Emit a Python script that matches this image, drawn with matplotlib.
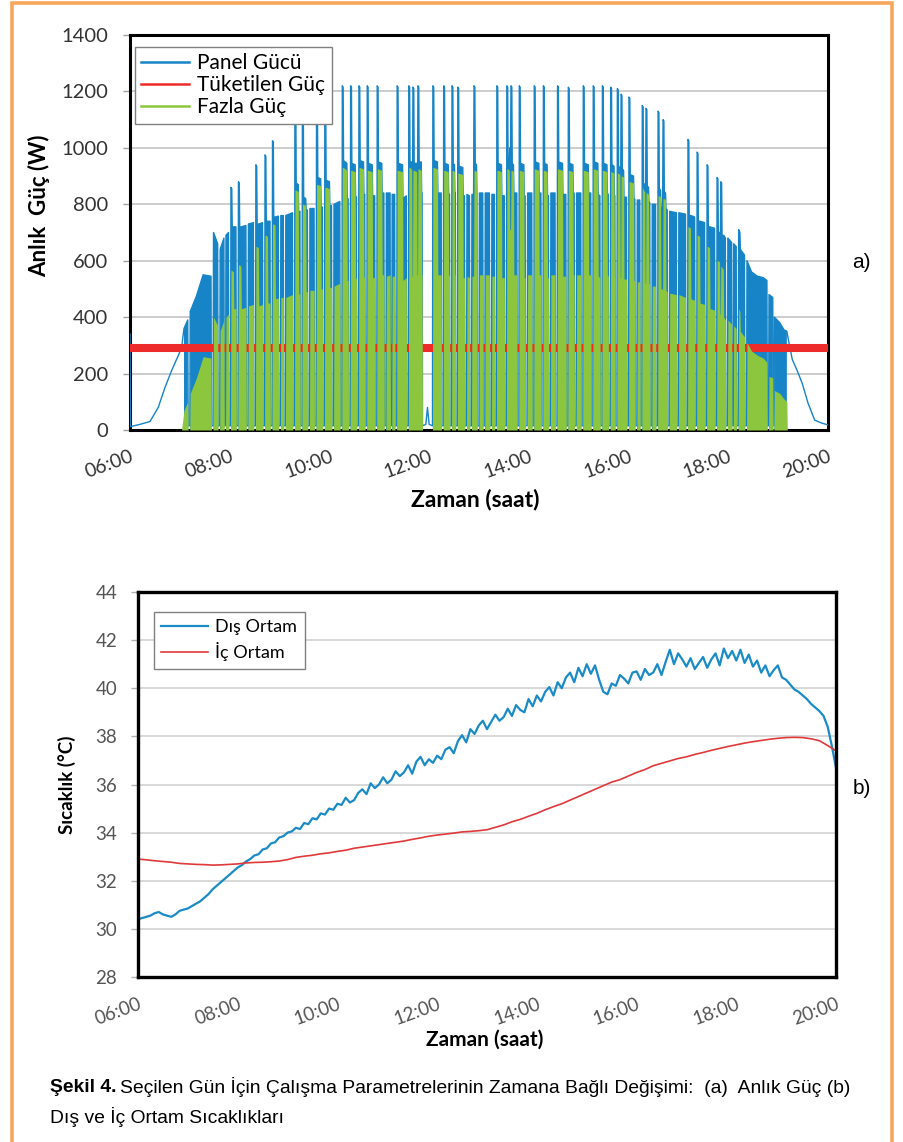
import numpy as np
import matplotlib
matplotlib.use("Agg")
import matplotlib.pyplot as plt
from matplotlib.lines import Line2D
from matplotlib.patches import Rectangle

plt.rcParams['font.family'] = ['Lato', 'DejaVu Sans']

# (a) Anlik guc - zaman: 06:00'dan itibaren dakika
guc_dakika = [
    0, 0.6, 12, 24, 34, 42, 50, 56, 62,
    65, 69.5, 70, 72,
    72.5, 80, 88, 97.5, 98, 100,
    100.5, 105.5, 106, 108,
    108.5, 113, 113.5, 115, 115.5, 118.5, 119, 121,
    121.5, 122.5, 123, 124.5, 125, 127.5, 128, 130,
    130.5, 131.5, 132, 133.5, 134, 139.5, 140, 142,
    142.5, 148.5, 149, 151,
    151.5, 152.5, 153, 154.5, 155, 159.5, 160, 162,
    162.5, 163.5, 164, 165.5, 166, 168.5, 169, 171,
    171.5, 172.5, 173, 174.5, 175, 178.5, 179, 181, 181.5, 184.5, 185, 187,
    187.5, 195.5, 196, 198,
    198.5, 199.5, 200, 202.5, 203, 204.5, 205, 207,
    207.5, 208.5, 209, 211.5, 212, 213.5, 214, 216,
    216.5, 221.5, 222, 224,
    224.5, 225.5, 226, 229.5, 230, 231.5, 232, 234,
    234.5, 235.5, 236, 240, 240.5, 242.5, 243, 245,
    245.5, 252.5, 253, 255,
    255.5, 256.5, 257, 261, 261.5, 262.5, 263, 265,
    265.5, 266.5, 267, 271, 271.5, 272.5, 273, 275,
    275.5, 276.5, 277, 281, 281.5, 282.5, 283, 285,
    285.5, 286.5, 287, 291.5, 292, 294.5, 295, 297,
    297.5, 298.5, 299, 303, 303.5, 305.5, 306, 308,
    308.5, 313, 313.5, 315, 315.5, 318.5, 319, 321,
    321.5, 322.5, 323, 328, 328.5, 332.5, 333, 335,
    335.5, 336.5, 337, 339, 339.5, 340, 340.5, 341.5, 342, 345, 345.5, 346,
    346.5, 347.5, 348, 350.5, 351, 351.5, 352, 356, 358, 360, 364,
    364.5, 365.5, 366, 370, 370.5, 374.5, 375, 377,
    377.5, 378.5, 379, 383, 383.5, 384.5, 385, 387,
    387.5, 388.5, 389, 390.5, 391, 391.5, 392, 394,
    394.5, 395.5, 396, 400.5, 401, 402.5, 403, 405, 405.5, 408.5, 409, 411,
    411.5, 413.5, 414, 415, 415.5, 417, 417.5, 418, 420,
    420.5, 424.5, 425, 427,
    427.5, 432.5, 433, 435, 435.5, 438.5, 439, 441,
    441.5, 442.5, 443, 447, 447.5, 450.5, 451, 453,
    453.5, 454.5, 455, 456.5, 457, 458, 458.5, 459.5, 460, 461.5, 462, 465.5, 466, 468,
    468.5, 469.5, 470, 474, 474.5, 475.5, 476, 478,
    478.5, 483.5, 484, 486,
    486.5, 487.5, 488, 492, 492.5, 494.5, 495, 497,
    497.5, 498.5, 499, 502, 502.5, 503.5, 504, 506,
    506.5, 511.5, 512, 514,
    514.5, 515.5, 516, 520.5, 521, 524.5, 525, 527,
    527.5, 528.5, 529, 533, 533.5, 534.5, 535, 537,
    537.5, 542.5, 543, 545,
    545.5, 546.5, 547, 551.5, 552, 554.5, 555, 557,
    557.5, 558.5, 559, 563, 563.5, 565.5, 566, 568,
    568.5, 569.5, 570, 574, 574.5, 575.5, 576, 578,
    578.5, 579.5, 580, 582.5, 583, 583.5, 584, 586,
    586.5, 587.5, 588, 589.5, 590, 590.5, 591, 592, 592.5, 594, 594.5, 597.5, 598, 600,
    600.5, 601.5, 602, 606, 606.5, 607.5, 608, 610, 610.5, 613.5, 614, 616,
    616.5, 617.5, 618, 619.5, 620, 620.5, 621, 622, 622.5, 624, 624.5, 625.5, 626, 628,
    628.5, 632.5, 633, 635,
    635.5, 636.5, 637, 638.5, 639, 641, 641.5, 642.5, 643, 644.5, 645, 646.5, 647, 649,
    649.5, 657.5, 658, 660,
    660.5, 668.5, 669, 671,
    671.5, 672.5, 673, 674.5, 675, 679.5, 680, 682,
    682.5, 683.5, 684, 685.5, 686, 691.5, 692, 694,
    694.5, 695.5, 696, 697.5, 698, 703.5, 704, 706,
    706.5, 707.5, 708, 709.5, 710, 710.5, 711, 712, 712.5, 714, 714.5, 716.5, 717, 719,
    719.5, 724, 724.5, 726, 726.5, 729.5, 730, 732,
    732.5, 734, 734.5, 739.5, 740, 742,
    742.5, 748, 755, 762, 766.5, 767, 768.5, 769, 773.5, 774, 775, 775.5, 782, 787, 790.5,
    791, 797, 803, 809, 816, 824, 832, 840,
]

panel_gucu = [
    340, 12, 20, 30, 80, 150, 210, 250, 290,
    360, 390, 15, 15,
    420, 475, 550, 545, 15, 15,
    700, 660, 15, 15,
    640, 680, 15, 15, 690, 700, 15, 15,
    860, 855, 720, 720, 720, 720, 15, 15,
    880, 875, 720, 720, 720, 725, 15, 15,
    730, 735, 15, 15,
    940, 935, 730, 730, 730, 735, 15, 15,
    975, 970, 740, 740, 740, 740, 15, 15,
    1025, 1020, 755, 755, 755, 758, 15, 15, 760, 760, 15, 15,
    760, 770, 15, 15,
    1210, 1205, 875, 870, 770, 775, 15, 15,
    1200, 1195, 825, 820, 780, 780, 15, 15,
    785, 785, 15, 15,
    1210, 1205, 895, 890, 790, 790, 15, 15,
    1210, 1205, 885, 880, 795, 795, 15, 15,
    800, 810, 15, 15,
    1220, 1215, 955, 945, 820, 820, 15, 15,
    1220, 1215, 945, 940, 830, 825, 15, 15,
    1220, 1215, 955, 950, 830, 835, 15, 15,
    1220, 1215, 945, 940, 830, 830, 15, 15,
    1220, 1215, 950, 945, 840, 840, 15, 15,
    840, 840, 15, 15, 835, 835, 15, 15,
    1220, 1215, 945, 940, 820, 830, 15, 15,
    1220, 1215, 950, 950, 835, 835, 1215, 1210, 945, 945, 840, 840,
    1220, 1215, 950, 950, 840, 840, 15, 20, 80, 20, 15,
    1220, 1215, 955, 950, 840, 840, 15, 15,
    1220, 1215, 945, 940, 840, 835, 15, 15,
    1220, 1215, 945, 940, 840, 840, 15, 15,
    1215, 1210, 935, 930, 830, 830, 15, 15, 835, 830, 15, 15,
    835, 835, 1220, 1215, 945, 940, 840, 15, 15,
    840, 840, 15, 15,
    840, 840, 15, 15, 835, 835, 15, 15,
    1220, 1215, 945, 940, 830, 830, 15, 15,
    1220, 1215, 950, 945, 1000, 1000, 1220, 1215, 945, 940, 840, 840, 15, 15,
    1220, 1215, 945, 940, 830, 830, 15, 15,
    840, 840, 15, 15,
    1220, 1215, 950, 945, 840, 840, 15, 15,
    1220, 1215, 945, 940, 830, 830, 15, 15,
    840, 840, 15, 15,
    1220, 1215, 950, 945, 835, 835, 15, 15,
    1215, 1210, 945, 940, 840, 840, 15, 15,
    840, 840, 15, 15,
    1220, 1215, 945, 940, 840, 840, 15, 15,
    1220, 1215, 950, 945, 835, 830, 15, 15,
    1220, 1215, 945, 940, 840, 835, 15, 15,
    1215, 1210, 940, 935, 830, 830, 15, 15,
    1210, 1205, 935, 930, 830, 830, 1190, 1185, 925, 920, 825, 825, 15, 15,
    1180, 1175, 905, 900, 820, 818, 15, 15, 815, 815, 15, 15,
    1150, 1145, 875, 870, 810, 810, 1140, 1135, 865, 860, 810, 805, 15, 15,
    800, 800, 15, 15,
    1130, 1125, 855, 850, 790, 790, 1100, 1095, 845, 840, 785, 780, 15, 15,
    775, 770, 15, 15,
    770, 765, 15, 15,
    1030, 1025, 760, 760, 760, 755, 15, 15,
    985, 980, 740, 740, 740, 735, 15, 15,
    940, 935, 720, 720, 720, 715, 15, 15,
    895, 890, 700, 700, 700, 700, 880, 875, 690, 690, 690, 680, 15, 15,
    680, 665, 15, 15, 660, 650, 15, 15,
    710, 700, 640, 620, 15, 15,
    600, 560, 545, 540, 530, 15, 15, 480, 470, 15, 15, 400, 380, 355, 350,
    340, 250, 210, 165, 95, 35, 25, 18,
]

fazla_guc = [
    0, 0, 0, 0, 0, 0, 0, 0, 0,
    70, 100, 0, 0,
    130, 185, 260, 255, 0, 0,
    400, 370, 0, 0,
    350, 390, 0, 0, 400, 410, 0, 0,
    565, 565, 565, 560, 430, 430, 0, 0,
    585, 585, 585, 580, 430, 435, 0, 0,
    440, 445, 0, 0,
    650, 650, 650, 645, 440, 445, 0, 0,
    690, 690, 690, 685, 450, 450, 0, 0,
    730, 730, 730, 725, 465, 468, 0, 0, 470, 470, 0, 0,
    470, 480, 0, 0,
    850, 850, 850, 845, 480, 485, 0, 0,
    800, 800, 800, 795, 490, 490, 0, 0,
    495, 495, 0, 0,
    870, 870, 870, 865, 500, 500, 0, 0,
    860, 860, 860, 855, 505, 505, 0, 0,
    510, 520, 0, 0,
    930, 930, 930, 920, 530, 530, 0, 0,
    920, 920, 920, 915, 540, 535, 0, 0,
    930, 930, 930, 925, 540, 545, 0, 0,
    920, 920, 920, 915, 540, 540, 0, 0,
    925, 925, 925, 920, 550, 550, 0, 0,
    545, 550, 0, 0, 545, 545, 0, 0,
    920, 920, 920, 915, 530, 540, 0, 0,
    930, 930, 930, 925, 545, 545, 920, 920, 920, 915, 550, 550,
    925, 925, 925, 920, 550, 550, 0, 0, 0, 0, 0,
    930, 930, 930, 925, 550, 550, 0, 0,
    920, 920, 920, 915, 550, 545, 0, 0,
    920, 920, 920, 915, 550, 550, 0, 0,
    910, 910, 910, 905, 540, 540, 0, 0, 545, 540, 0, 0,
    545, 545, 920, 920, 920, 915, 550, 0, 0,
    550, 550, 0, 0,
    550, 550, 0, 0, 545, 545, 0, 0,
    920, 920, 920, 915, 540, 540, 0, 0,
    925, 925, 925, 920, 710, 710, 920, 920, 920, 915, 550, 550, 0, 0,
    920, 920, 920, 915, 540, 540, 0, 0,
    550, 550, 0, 0,
    925, 925, 925, 920, 550, 550, 0, 0,
    920, 920, 920, 915, 540, 540, 0, 0,
    550, 550, 0, 0,
    925, 925, 925, 920, 545, 545, 0, 0,
    920, 920, 920, 915, 550, 550, 0, 0,
    550, 550, 0, 0,
    920, 920, 920, 915, 550, 550, 0, 0,
    925, 925, 925, 920, 545, 540, 0, 0,
    920, 920, 920, 915, 550, 545, 0, 0,
    915, 915, 915, 910, 540, 540, 0, 0,
    910, 910, 910, 905, 540, 540, 900, 900, 900, 895, 535, 535, 0, 0,
    880, 880, 880, 875, 530, 528, 0, 0, 525, 525, 0, 0,
    860, 855, 850, 845, 520, 520, 840, 840, 840, 835, 520, 515, 0, 0,
    510, 510, 0, 0,
    830, 830, 830, 825, 500, 500, 820, 820, 820, 815, 495, 490, 0, 0,
    485, 480, 0, 0,
    480, 470, 0, 0,
    720, 720, 720, 715, 465, 460, 0, 0,
    690, 690, 690, 685, 450, 445, 0, 0,
    650, 650, 650, 645, 430, 425, 0, 0,
    600, 600, 600, 595, 410, 410, 580, 580, 575, 570, 400, 390, 0, 0,
    390, 375, 0, 0, 370, 360, 0, 0,
    430, 420, 350, 330, 0, 0,
    310, 280, 265, 255, 240, 0, 0, 190, 185, 0, 0, 140, 130, 110, 100,
    0, 0, 0, 0, 0, 0, 0, 0,
]

tuketilen_guc = 290  # W, sabit yuk

# (b) Sicakliklar (C)
# dis ortam: 06:00-20:00, 5 dakika arayla
dis_ortam = [
    30.40, 30.45, 30.50, 30.55, 30.65, 30.70, 30.60, 30.55, 30.50, 30.60, 30.75, 30.80, 30.85,
    30.95, 31.05, 31.15, 31.30, 31.45, 31.65, 31.80, 31.95, 32.10, 32.25, 32.40, 32.55,
    32.65, 32.80, 32.90, 33.05, 33.10, 33.30, 33.35, 33.55, 33.60, 33.80, 33.85, 34.00,
    34.05, 34.20, 34.15, 34.40, 34.35, 34.60, 34.55, 34.80, 34.75, 35.00, 34.95, 35.20,
    35.15, 35.45, 35.25, 35.35, 35.65, 35.80, 35.60, 36.05, 35.85, 36.00, 36.30, 36.05,
    36.20, 36.55, 36.35, 36.50, 36.80, 36.45, 36.95, 37.15, 36.80, 37.05, 36.90, 37.20,
    37.05, 37.45, 37.55, 37.30, 37.80, 38.05, 37.75, 38.30, 38.10, 38.45, 38.65, 38.30,
    38.60, 38.90, 38.65, 38.80, 39.15, 38.85, 39.30, 39.10, 39.00, 39.55, 39.25, 39.70,
    39.45, 39.85, 40.05, 39.70, 40.25, 40.00, 40.45, 40.65, 40.25, 40.85, 40.50, 41.00,
    40.60, 40.95, 40.35, 39.85, 39.75, 40.20, 40.10, 40.55, 40.40, 40.20, 40.65, 40.70,
    40.35, 40.80, 40.55, 40.65, 41.00, 40.55, 41.10, 41.60, 41.00, 41.45, 41.20, 40.90,
    41.25, 40.80, 41.05, 41.30, 40.85, 41.20, 41.45, 40.95, 41.65, 41.25, 41.55, 41.15,
    41.60, 41.05, 41.40, 40.90, 41.15, 40.65, 40.95, 40.50, 40.75, 40.95, 40.45, 40.35,
    40.15, 39.95, 39.85, 39.70, 39.55, 39.35, 39.20, 39.05, 38.85, 38.40, 37.60, 36.70,
]
# ic ortam: 06:00-20:00, 10 dakika arayla
ic_ortam = [
    32.90, 32.87, 32.83, 32.80, 32.77, 32.72, 32.70,
    32.68, 32.67, 32.65, 32.66, 32.68, 32.70,
    32.74, 32.76, 32.77, 32.79, 32.82, 32.88,
    32.97, 33.02, 33.06, 33.12, 33.16, 33.22,
    33.27, 33.35, 33.40, 33.45, 33.50, 33.55,
    33.60, 33.65, 33.72, 33.78, 33.85, 33.90,
    33.94, 33.98, 34.03, 34.05, 34.08, 34.12,
    34.22, 34.32, 34.45, 34.55, 34.68, 34.80,
    34.95, 35.08, 35.20, 35.35, 35.50, 35.65,
    35.80, 35.95, 36.10, 36.20, 36.35, 36.50,
    36.62, 36.78, 36.88, 36.98, 37.08, 37.15,
    37.25, 37.33, 37.42, 37.50, 37.58, 37.65,
    37.72, 37.78, 37.83, 37.88, 37.92, 37.95,
    37.96, 37.95, 37.90, 37.82, 37.62, 37.40,
]

saat_ticks = [6, 8, 10, 12, 14, 16, 18, 20]
saat_etiket = ['06:00', '08:00', '10:00', '12:00', '14:00', '16:00', '18:00', '20:00']

assert len(guc_dakika) == len(panel_gucu) == len(fazla_guc)

MAVI = '#1684C6'
KIRMIZI = '#EE2B2B'
YESIL = '#8CC63F'
W, H = 904, 1142

saat = 6 + np.array(guc_dakika) / 60.0
panel = np.array(panel_gucu, dtype=float)
fazla = np.array(fazla_guc, dtype=float)
saat_dis = 6 + np.arange(0, 841, 5) / 60.0
saat_ic = 6 + np.arange(0, 841, 10) / 60.0

fig = plt.figure(figsize=(W / 100, H / 100), dpi=100)

# ---------------- (a) ----------------
ax1 = fig.add_axes([130 / W, 1 - 430 / H, 698 / W, 395 / H])
ax1.fill_between(saat, 0, panel, where=fazla > 0, color=MAVI, lw=0, zorder=3)
ax1.plot(saat, panel, color=MAVI, lw=1.0, zorder=3.2)
ax1.plot(saat, np.full_like(saat, tuketilen_guc), color=KIRMIZI, lw=5.8,
         solid_capstyle='butt', zorder=3.5)
ax1.fill_between(saat, 0, fazla, color=YESIL, lw=0, zorder=4)

ax1.set_xlim(6, 20)
ax1.set_ylim(0, 1400)
ax1.set_yticks(range(0, 1401, 200))
ax1.set_xticks(saat_ticks)
ax1.set_xticklabels(saat_etiket, rotation=20, ha='right', va='top', rotation_mode='anchor')
ax1.tick_params(axis='y', length=5, width=1, color='#A0A0A0', pad=11, labelsize=14.5,
                labelcolor='#333333')
ax1.tick_params(axis='x', length=0, pad=13, labelsize=14, labelcolor='#333333')
ax1.grid(axis='y', color='#C4C4C4', lw=1.2)
ax1.set_axisbelow(True)
for s in ax1.spines.values():
    s.set_linewidth(2.2)
    s.set_zorder(2.5)
ax1.set_ylabel('Anlık  Güç (W)', fontsize=16, fontweight='bold')
ax1.yaxis.set_label_coords(-0.115, 0.567)
ax1.set_xlabel('Zaman (saat)', fontsize=16.5, fontweight='bold')
ax1.xaxis.set_label_coords(0.494, -0.177)
ax1.xaxis.label.set_va('center')

h1 = [Line2D([], [], color=MAVI, lw=1.8), Line2D([], [], color=KIRMIZI, lw=1.8),
      Line2D([], [], color=YESIL, lw=1.8)]
leg1 = ax1.legend(h1, ['Panel Gücü', 'Tüketilen Güç', 'Fazla Güç'], loc='upper left',
                  bbox_to_anchor=(0.007, 0.970), borderaxespad=0, fontsize=15,
                  fancybox=False, framealpha=1, edgecolor='#808080', handlelength=2.3,
                  handletextpad=0.4, labelspacing=0.1, borderpad=0.3)
leg1.get_frame().set_linewidth(1.0)
leg1.set_zorder(10)

# ---------------- (b) ----------------
ax2 = fig.add_axes([138 / W, 1 - 977 / H, 698 / W, 385 / H])
ax2.plot(saat_dis, dis_ortam, color='#1A8BC6', lw=1.6, label='Dış Ortam')
ax2.plot(saat_ic, ic_ortam, color='#E0393B', lw=1.2, label='İç Ortam')
ax2.set_xlim(6, 20)
ax2.set_ylim(28, 44)
ax2.set_yticks(range(28, 45, 2))
ax2.set_xticks(saat_ticks)
ax2.set_xticklabels(saat_etiket, rotation=20, ha='right', va='top', rotation_mode='anchor')
ax2.tick_params(axis='y', length=5, width=1, color='#B0B0B0', pad=10, labelsize=13.5,
                labelcolor='#555555')
ax2.tick_params(axis='x', length=0, pad=13, labelsize=13.5, labelcolor='#555555')
ax2.grid(axis='y', color='#D8D8D8', lw=1.4)
ax2.set_axisbelow(True)
for s in ax2.spines.values():
    s.set_linewidth(2.4)
ax2.set_ylabel('Sıcaklık (°C)', fontsize=13.5, fontweight='bold')
ax2.yaxis.set_label_coords(-0.089, 0.499)
ax2.set_xlabel('Zaman (saat)', fontsize=15, fontweight='bold')
ax2.xaxis.set_label_coords(0.497, -0.164)
ax2.xaxis.label.set_va('center')
leg2 = ax2.legend(loc='upper left', bbox_to_anchor=(0.023, 0.948), borderaxespad=0,
                  fontsize=13, fancybox=False, framealpha=1, edgecolor='#808080',
                  handlelength=2.6, handletextpad=0.4, labelspacing=0.4, borderpad=0.4)
leg2.get_frame().set_linewidth(1.0)

# etiketler
fig.text(861 / W, 1 - 262 / H, 'a)', fontsize=15, family=['Liberation Sans', 'DejaVu Sans'],
         ha='center', va='center')
fig.text(862 / W, 1 - 789 / H, 'b)', fontsize=15, family=['Liberation Sans', 'DejaVu Sans'],
         ha='center', va='center')

# cerceve
fig.add_artist(Rectangle((11.5 / W, -0.02), (892.5 - 11.5) / W, 1.02 - 3 / H,
                         transform=fig.transFigure, fill=False, edgecolor='#F8A65C', lw=2.6))

# alt yazi
cap_font = ['Liberation Sans', 'DejaVu Sans']
t1 = fig.text(50 / W, 1 - 1087 / H, 'Şekil 4.', fontsize=13.9, fontweight='bold',
              family=cap_font, va='center')
fig.canvas.draw()
bb = t1.get_window_extent()
fig.text((bb.x1 + 4) / W, 1 - 1087 / H,
         'Seçilen Gün İçin Çalışma Parametrelerinin Zamana Bağlı Değişimi:  (a)  Anlık Güç (b)',
         fontsize=13.9, family=cap_font, va='center')
fig.text(50 / W, 1 - 1117 / H, 'Dış ve İç Ortam Sıcaklıkları', fontsize=13.9,
         family=cap_font, va='center')

fig.savefig('out.png', dpi=100)
